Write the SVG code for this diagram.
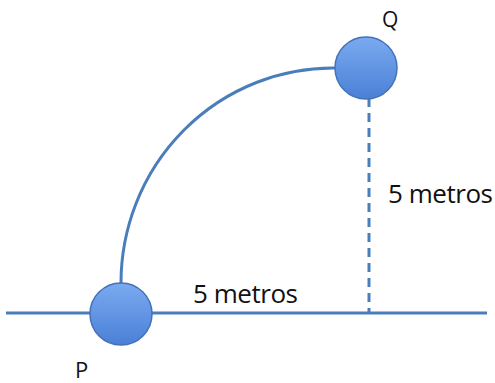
<svg xmlns="http://www.w3.org/2000/svg" width="495" height="383" viewBox="0 0 495 383">
<style>
.ln{stroke:#4A7EBB;stroke-width:3;fill:none}
.ball{fill:url(#g);stroke:#4472B8;stroke-width:1.5}
.t{font-family:"Open Sans","Liberation Sans",sans-serif;font-size:26px;fill:#111}
</style>
<defs>
<linearGradient id="g" x1="0" y1="0" x2="0" y2="1">
<stop offset="0" stop-color="#7AAAF0"/>
<stop offset="1" stop-color="#4A80D6"/>
</linearGradient>
</defs>
<rect width="495" height="383" fill="#fff"/>
<g id="connectors">
<line class="ln" x1="6" y1="313" x2="487" y2="313"/>
<path class="ln" d="M121 283 A212 215 0 0 1 335 68"/>
<line class="ln" x1="369" y1="98" x2="369" y2="313" stroke-dasharray="9 6"/>
</g>
<g id="P">
<circle class="ball" cx="121" cy="314" r="31"/>
<text class="t" x="75" y="378" style="font-size:22px">P</text>
</g>
<g id="Q">
<circle class="ball" cx="366" cy="68" r="31"/>
<text class="t" x="382" y="27" style="font-size:21px">Q</text>
</g>
<text class="t" x="193" y="303" textLength="105">5 metros</text>
<text class="t" x="388" y="203" textLength="105">5 metros</text>
</svg>
